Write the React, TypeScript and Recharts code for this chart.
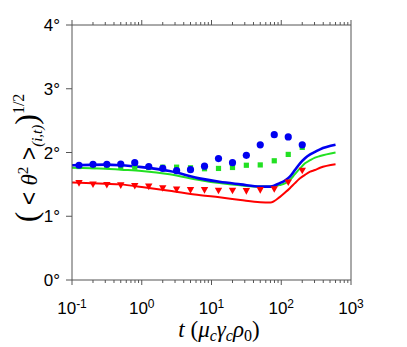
import { ComposedChart, Line, Scatter, XAxis, YAxis } from 'recharts';

// marker samples (log spaced times)
const markerT = [0.126, 0.2, 0.316, 0.5, 0.794, 1.26, 2, 3.16, 5, 7.94, 12.6, 20, 31.6, 50, 79.4, 126, 200];
const blueDots = [1.8, 1.815, 1.815, 1.82, 1.84, 1.78, 1.75, 1.715, 1.73, 1.785, 1.905, 1.84, 1.955, 2.12, 2.28, 2.245, 2.12];
const greenSquares = [1.78, 1.78, 1.78, 1.775, 1.77, 1.765, 1.77, 1.77, 1.76, 1.745, 1.75, 1.765, 1.8, 1.805, 1.87, 1.97, 2.08];
const redTriangles = [1.52, 1.5, 1.49, 1.485, 1.475, 1.465, 1.44, 1.42, 1.41, 1.41, 1.4, 1.4, 1.395, 1.41, 1.425, 1.53, 1.715];

// continuous curves
const lineT = [0.1, 0.3, 0.5, 1, 2.5, 7, 13, 26, 50, 70, 95, 113, 133, 157, 186, 219, 260, 305, 360, 600];
const blueLine = [1.8, 1.81, 1.8, 1.77, 1.71, 1.59, 1.54, 1.5, 1.465, 1.465, 1.52, 1.56, 1.62, 1.725, 1.83, 1.91, 1.97, 2.01, 2.05, 2.12];
const greenLine = [1.76, 1.745, 1.73, 1.71, 1.66, 1.565, 1.52, 1.485, 1.465, 1.465, 1.49, 1.515, 1.57, 1.66, 1.75, 1.83, 1.88, 1.92, 1.945, 2.0];
const redLine = [1.53, 1.51, 1.5, 1.46, 1.4, 1.33, 1.297, 1.255, 1.22, 1.215, 1.3, 1.37, 1.44, 1.52, 1.595, 1.65, 1.7, 1.725, 1.76, 1.815];

const xMajor = [0.1, 1, 10, 100, 1000];
const xExponents = ['-1', '0', '1', '2', '3'];
const yTicks = [0, 1, 2, 3, 4];
const yLabels = ['0°', '1°', '2°', '3°', '4°'];

const BLUE = '#0000f0';
const GREEN = '#22e022';
const RED = '#ff0000';
const AXIS = '#555';
const SANS = '"Liberation Sans", Arial, sans-serif';
const SERIF = '"Liberation Serif", "Times New Roman", serif';

const pts = (xs: number[], ys: number[]) => xs.map((t, i) => ({ t, y: ys[i] }));

// major + minor tick positions for the log axis
const xTicks: number[] = [];
xMajor.slice(0, -1).forEach((m) => {
  for (let k = 1; k <= 9; k++) xTicks.push(m * k);
});
xTicks.push(1000);

const majorIndex = (v: number) => xMajor.findIndex((m) => Math.abs(m - v) / m < 1e-6);

const BottomTick = ({ x, y, payload }: any) => {
  const i = majorIndex(payload.value);
  return (
    <g>
      <line x1={x} x2={x} y1={y} y2={y + (i >= 0 ? 5 : 3)} stroke={AXIS} />
      {i >= 0 && (
        <text x={x} y={y + 34} textAnchor="middle" fontSize={17} fill="#000" fontFamily={SANS}>
          10
          <tspan dy={-6} fontSize={12}>
            {xExponents[i]}
          </tspan>
        </text>
      )}
    </g>
  );
};

const TopTick = ({ x, y, payload }: any) => {
  const i = majorIndex(payload.value);
  return <line x1={x} x2={x} y1={y} y2={y - (i >= 0 ? 5 : 3)} stroke={AXIS} />;
};

const LeftTick = ({ x, y, payload }: any) => (
  <g>
    <line x1={x - 6} x2={x} y1={y} y2={y} stroke={AXIS} />
    <text x={x - 12} y={y + 6} textAnchor="end" fontSize={17} fill="#000" fontFamily={SANS}>
      {yLabels[yTicks.indexOf(payload.value)]}
    </text>
  </g>
);

const RightTick = ({ x, y }: any) => <line x1={x} x2={x + 6} y1={y} y2={y} stroke={AXIS} />;

const Dot = (p: any) => <circle cx={p.cx} cy={p.cy} r={3.6} fill={BLUE} />;
const Square = (p: any) => <rect x={p.cx - 2.6} y={p.cy - 2.6} width={5.2} height={5.2} fill={GREEN} />;
const TriDown = (p: any) => (
  <path d={`M${p.cx - 3.7},${p.cy - 3} L${p.cx + 3.7},${p.cy - 3} L${p.cx},${p.cy + 3.6} Z`} fill={RED} />
);

export default function App() {
  return (
    <div style={{ position: 'fixed', left: 0, top: 0, width: 407, height: 347, background: '#fff' }}>
      <ComposedChart width={407} height={347} margin={{ top: 0, right: 0, bottom: 0, left: 0 }}>
        <XAxis
          xAxisId="b"
          dataKey="t"
          type="number"
          scale="log"
          domain={[0.1, 1000]}
          allowDataOverflow
          ticks={xTicks}
          interval={0}
          height={67}
          tickSize={0}
          tickMargin={0}
          tickLine={false}
          axisLine={{ stroke: AXIS }}
          tick={(p: any) => <BottomTick {...p} />}
        />
        <XAxis
          xAxisId="t"
          orientation="top"
          dataKey="t"
          type="number"
          scale="log"
          domain={[0.1, 1000]}
          allowDataOverflow
          ticks={xTicks}
          interval={0}
          height={25}
          tickSize={0}
          tickMargin={0}
          tickLine={false}
          axisLine={{ stroke: AXIS }}
          tick={(p: any) => <TopTick {...p} />}
        />
        <YAxis
          yAxisId="l"
          type="number"
          domain={[0, 4]}
          ticks={yTicks}
          interval={0}
          width={72}
          tickSize={0}
          tickMargin={0}
          tickLine={false}
          axisLine={{ stroke: AXIS }}
          tick={(p: any) => <LeftTick {...p} />}
        />
        <YAxis
          yAxisId="r"
          orientation="right"
          type="number"
          domain={[0, 4]}
          ticks={yTicks}
          interval={0}
          width={56}
          tickSize={0}
          tickMargin={0}
          tickLine={false}
          axisLine={{ stroke: AXIS }}
          tick={(p: any) => <RightTick {...p} />}
        />
        <Scatter xAxisId="b" yAxisId="l" data={pts(markerT, greenSquares)} dataKey="y" shape={Square} isAnimationActive={false} />
        <Scatter xAxisId="b" yAxisId="l" data={pts(markerT, redTriangles)} dataKey="y" shape={TriDown} isAnimationActive={false} />
        <Scatter xAxisId="b" yAxisId="l" data={pts(markerT, blueDots)} dataKey="y" shape={Dot} isAnimationActive={false} />
        <Line xAxisId="b" yAxisId="l" data={pts(lineT, redLine)} dataKey="y" type="monotone" stroke={RED} strokeWidth={2} dot={false} isAnimationActive={false} />
        <Line xAxisId="b" yAxisId="l" data={pts(lineT, greenLine)} dataKey="y" type="monotone" stroke={GREEN} strokeWidth={2} dot={false} isAnimationActive={false} />
        <Line xAxisId="b" yAxisId="l" data={pts(lineT, blueLine)} dataKey="y" type="monotone" stroke={BLUE} strokeWidth={2.6} dot={false} isAnimationActive={false} />
      </ComposedChart>
      <svg width={407} height={347} style={{ position: 'absolute', left: 0, top: 0, pointerEvents: 'none' }}>
        <text transform="translate(37,158) rotate(-90)" textAnchor="middle" fontSize={23} fill="#000" fontFamily={SERIF}>
          <tspan fontSize={32}>(</tspan>
          <tspan fontFamily={SANS}>{' < '}</tspan>
          <tspan fontStyle="italic">θ</tspan>
          <tspan dy={-9} fontSize={15}>2</tspan>
          <tspan dy={9} fontFamily={SANS}>{' >'}</tspan>
          <tspan dy={5} fontSize={15} fontStyle="italic">(i,t)</tspan>
          <tspan dy={-5} fontSize={32}>)</tspan>
          <tspan dy={-13} fontSize={16}>1/2</tspan>
        </text>
        <text x={219} y={337} textAnchor="middle" fontSize={23} fill="#000" fontFamily={SERIF}>
          <tspan fontStyle="italic">t</tspan>
          <tspan>{' ('}</tspan>
          <tspan fontStyle="italic">μ</tspan>
          <tspan dy={4} fontSize={16} fontStyle="italic">c</tspan>
          <tspan dy={-4} fontStyle="italic">γ</tspan>
          <tspan dy={4} fontSize={16} fontStyle="italic">c</tspan>
          <tspan dy={-4} fontStyle="italic">ρ</tspan>
          <tspan dy={4} fontSize={16}>0</tspan>
          <tspan dy={-4}>)</tspan>
        </text>
      </svg>
    </div>
  );
}
